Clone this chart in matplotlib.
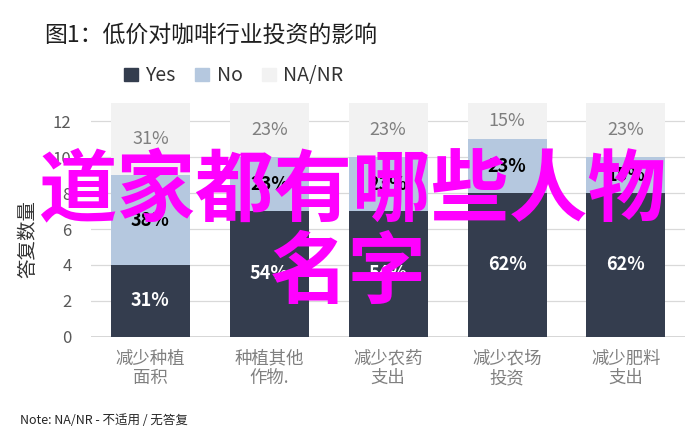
import matplotlib
matplotlib.use("Agg")
import matplotlib.pyplot as plt
from matplotlib.patches import Patch

plt.rcParams['font.family'] = ['Noto Sans CJK SC', 'DejaVu Sans']

# --- datos ---
categorias = ["减少种植\n面积", "种植其他\n作物.", "减少农药\n支出", "减少农场\n投资", "减少肥料\n支出"]
yes_vals = [4, 7, 7, 8, 8]
no_vals = [5, 3, 3, 3, 2]
na_vals = [4, 3, 3, 2, 3]
yes_pct = ["31%", "54%", "54%", "62%", "62%"]
no_pct = ["38%", "23%", "23%", "23%", "15%"]
na_pct = ["31%", "23%", "23%", "15%", "23%"]
series_names = ["Yes", "No", "NA/NR"]

C_YES = '#343d4e'; C_NO = '#b5c8df'; C_NA = '#f2f2f2'

fig = plt.figure(figsize=(6.96, 4.44), dpi=100)
ax = fig.add_axes([0.1307, 0.241, 0.854, 0.527])

x = range(len(categorias))
w = 0.665
ax.bar(x, yes_vals, w, color=C_YES, zorder=2)
bottom2 = yes_vals
ax.bar(x, no_vals, w, bottom=bottom2, color=C_NO, zorder=2)
bottom3 = [a + b for a, b in zip(yes_vals, no_vals)]
ax.bar(x, na_vals, w, bottom=bottom3, color=C_NA, zorder=2)

# etiquetas de porcentaje
for i in x:
    ax.text(i, yes_vals[i] / 2, yes_pct[i], ha='center', va='center', color='white',
            fontsize=13, fontweight='bold', zorder=3)
    ax.text(i, bottom2[i] + no_vals[i] / 2, no_pct[i], ha='center', va='center', color='black',
            fontsize=13, fontweight='bold', zorder=3)
    ax.text(i, bottom3[i] + na_vals[i] / 2, na_pct[i], ha='center', va='center', color='#7f7f7f',
            fontsize=13, zorder=3)

ax.set_xlim(-0.5, 4.5)
ax.set_ylim(0, 13)
ax.set_yticks(range(0, 13, 2))
ax.grid(axis='y', color='#d9d9d9', lw=0.9, zorder=0)
for s in ax.spines.values(): s.set_visible(False)
ax.axhline(0, color='#d0d0d0', lw=1.2, zorder=1)
ax.tick_params(axis='both', length=0, colors='#595959', labelsize=12)
ax.tick_params(axis='y', pad=14)
ax.set_xticks(list(x))
ax.set_xticklabels(categorias, fontsize=12.5, color='#808080', linespacing=1.1)
ax.tick_params(axis='x', pad=9)

fig.text(0.04, 0.462, "答复数量", rotation=90, ha='center', va='center', fontsize=14, color='#333333')

# titulo
fig.text(0.063, 0.921, "图1：低价对咖啡行业投资的影响", fontsize=16.5, color='#1f1f1f', va='center', ha='left')

# leyenda
handles = [Patch(color=c) for c in (C_YES, C_NO, C_NA)]
fig.legend(handles, series_names, loc='center', bbox_to_anchor=(0.336, 0.829), ncol=3, frameon=False,
           fontsize=14, handlelength=0.7, handleheight=0.7, handletextpad=0.4, columnspacing=1.0,
           labelcolor='#333333')

# nota
fig.text(0.029, 0.052, "Note: NA/NR - 不适用 / 无答复", fontsize=9, color='#262626', va='center', ha='left')

# texto superpuesto
fig.text(0.506, 0.567, "道家都有哪些人物", fontsize=56.5, fontweight='bold', color='#ff00ff',
         ha='center', va='center', zorder=10)
fig.text(0.5, 0.382, "名字", fontsize=56.5, fontweight='bold', color='#ff00ff',
         ha='center', va='center', zorder=10)

fig.savefig("out.png", dpi=100)
